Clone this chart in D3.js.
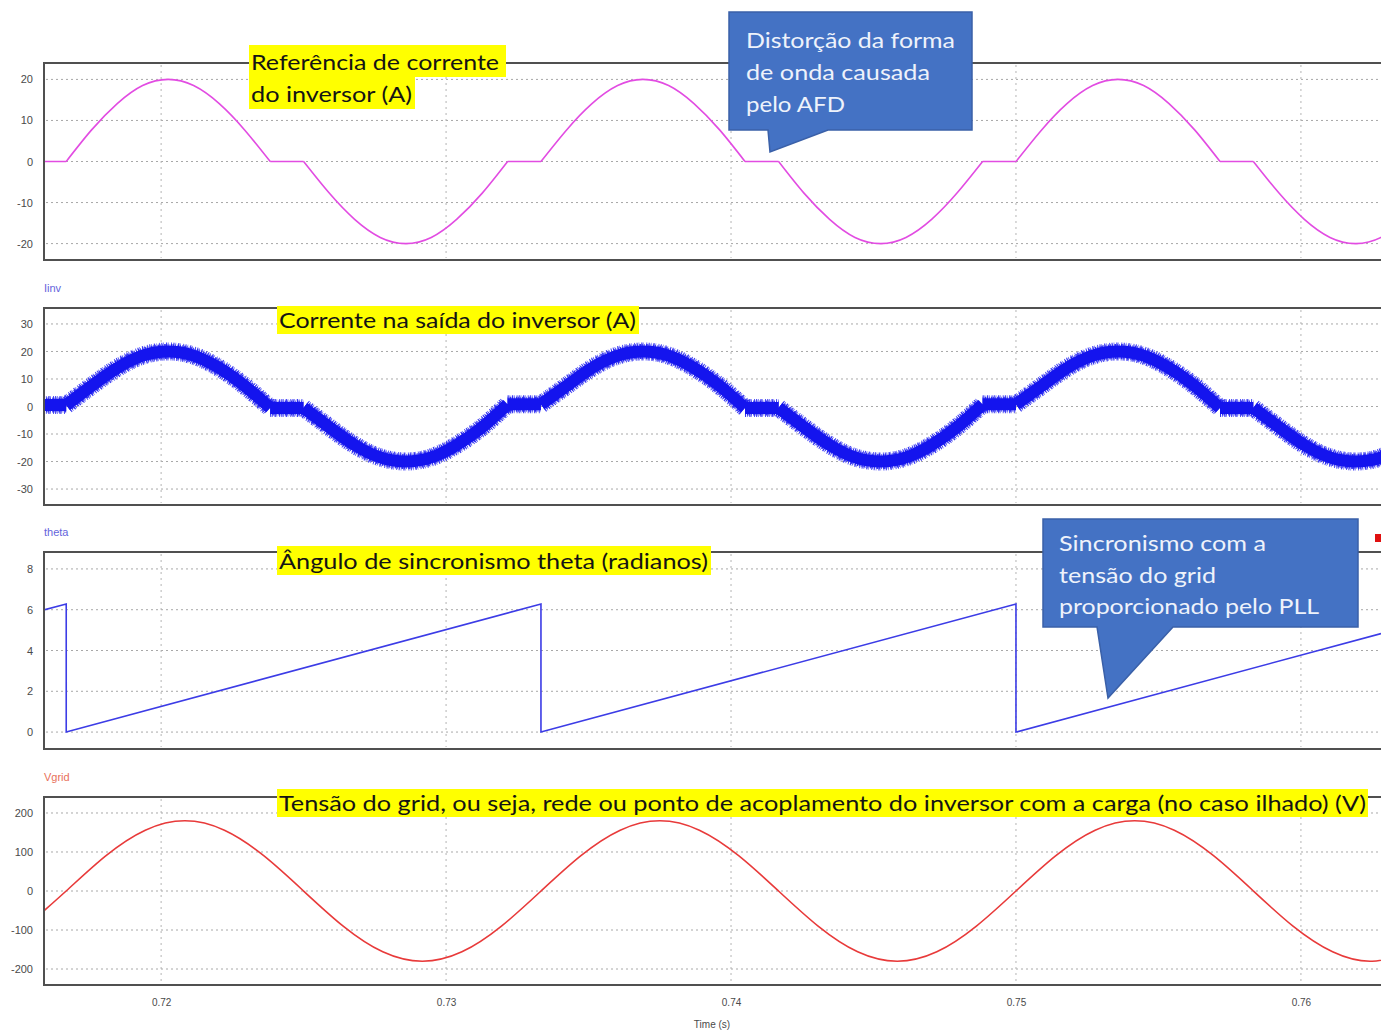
<!DOCTYPE html>
<html><head><meta charset="utf-8">
<script src="https://cdn.jsdelivr.net/npm/d3@7"></script>
<style>body{margin:0;background:#fff}svg{display:block}</style>
</head><body><svg id="c" width="1381" height="1031"></svg>
<script>
// ---------- data ----------
const timeTicks = [0.72, 0.73, 0.74, 0.75, 0.76];
const refTicks = [20, 10, 0, -10, -20];
const iinvTicks = [30, 20, 10, 0, -10, -20, -30];
const thetaTicks = [8, 6, 4, 2, 0];
const vgridTicks = [200, 100, 0, -100, -200];

const refTime = [0.71589,
  0.71667,0.71756,0.71846,0.71935,0.72025,0.72114,0.72204,0.72293,0.72383,
  0.72500,0.72590,0.72679,0.72769,0.72858,0.72948,0.73037,0.73127,0.73216,
  0.73333,0.73423,0.73512,0.73602,0.73691,0.73781,0.73870,0.73960,0.74049,
  0.74167,0.74256,0.74346,0.74435,0.74525,0.74614,0.74704,0.74793,0.74883,
  0.75000,0.75090,0.75179,0.75269,0.75358,0.75448,0.75537,0.75627,0.75716,
  0.75833,0.75923,0.76012,0.76102,0.76191,0.76281,0.76370];
const refCurrent = [0,
  0,7.7,14.1,18.5,20,18.5,14.1,7.7,0,
  0,-7.7,-14.1,-18.5,-20,-18.5,-14.1,-7.7,0,
  0,7.7,14.1,18.5,20,18.5,14.1,7.7,0,
  0,-7.7,-14.1,-18.5,-20,-18.5,-14.1,-7.7,0,
  0,7.7,14.1,18.5,20,18.5,14.1,7.7,0,
  0,-7.7,-14.1,-18.5,-20,-18.5,-14.1];
const iinvCurrent = [0.5,
  0.5,7.5,14,18.5,20,18.5,14,7.5,-0.5,
  -0.5,-7.5,-14,-18.5,-20,-18.5,-14,-7.5,0.8,
  0.8,7.5,14,18.5,20,18.5,14,7.5,-0.5,
  -0.5,-7.5,-14,-18.5,-20,-18.5,-14,-7.5,0.8,
  0.8,7.5,14,18.5,20,18.5,14,7.5,-0.5,
  -0.5,-7.5,-14,-18.5,-20,-18.5,-14];

const thetaTime = [0.71589, 0.71667, 0.71667, 0.73333, 0.73333, 0.75000, 0.75000, 0.76281];
const thetaValues = [5.99, 6.28, 0, 6.28, 0, 6.28, 0, 4.83];

const vgridTime = [0.715278,0.716667,0.718056,0.719444,0.720833,0.722222,0.723611,
  0.725000,0.726389,0.727778,0.729167,0.730556,0.731944,
  0.733333,0.734722,0.736111,0.737500,0.738889,0.740278,
  0.741667,0.743056,0.744444,0.745833,0.747222,0.748611,
  0.750000,0.751389,0.752778,0.754167,0.755556,0.756944,
  0.758333,0.759722,0.761111,0.762500,0.763889];
const vgridValues = [-90,0,90,155.9,180,155.9,90,
  0,-90,-155.9,-180,-155.9,-90,
  0,90,155.9,180,155.9,90,
  0,-90,-155.9,-180,-155.9,-90,
  0,90,155.9,180,155.9,90,
  0,-90,-155.9,-180,-155.9];

const panelNames = [null, "Iinv", "theta", "Vgrid"];
const xAxisTitle = "Time (s)";
const highlightTexts = [
  ["Referência de corrente", "do inversor (A)"],
  ["Corrente na saída do inversor (A)"],
  ["Ângulo de sincronismo theta (radianos)"],
  ["Tensão do grid, ou seja, rede ou ponto de acoplamento do inversor com a carga (no caso ilhado) (V)"]
];
const calloutTexts = [
  ["Distorção da forma", "de onda causada", "pelo AFD"],
  ["Sincronismo com a", "tensão do grid", "proporcionado pelo PLL"]
];

// ---------- drawing ----------
const svg = d3.select("#c");
const x = d3.scaleLinear().domain([0.71589, 0.76281]).range([44, 1381]);
const left = 44, right = 1384;

const panels = [
  {top: 63, bottom: 260, domain: [-24, 24], ticks: refTicks, name: panelNames[0], nameColor: "#5a5ae0"},
  {top: 308, bottom: 505, domain: [-35.8, 35.8], ticks: iinvTicks, name: panelNames[1], nameColor: "#6464dc"},
  {top: 552, bottom: 749, domain: [-0.83, 8.83], ticks: thetaTicks, name: panelNames[2], nameColor: "#6464dc"},
  {top: 797, bottom: 985, domain: [-241, 241], ticks: vgridTicks, name: panelNames[3], nameColor: "#e8705a"}
];

const tickFont = "'Liberation Sans Narrow','Arial Narrow','Liberation Sans',sans-serif";

panels.forEach((p, i) => {
  p.y = d3.scaleLinear().domain(p.domain).range([p.bottom, p.top]);
  const g = svg.append("g");
  g.append("rect").attr("x", left).attr("y", p.top).attr("width", right - left).attr("height", p.bottom - p.top)
    .attr("fill", "#fff");
  g.selectAll(".hg").data(p.ticks).join("line")
    .attr("x1", left + 2).attr("x2", right).attr("y1", d => p.y(d)).attr("y2", d => p.y(d))
    .attr("stroke", "#a8a8a8").attr("stroke-width", 1).attr("stroke-dasharray", "2,3");
  g.selectAll(".vg").data(timeTicks).join("line")
    .attr("x1", d => x(d)).attr("x2", d => x(d)).attr("y1", p.top + 2).attr("y2", p.bottom - 2)
    .attr("stroke", "#b4b4b4").attr("stroke-width", 1).attr("stroke-dasharray", "2,4");
  const ax = d3.axisLeft(p.y).tickValues(p.ticks).tickSize(0).tickPadding(0).tickFormat(d => String(d));
  const axg = g.append("g").attr("transform", `translate(${left - 11},0)`).call(ax);
  axg.select(".domain").remove();
  axg.selectAll("text").attr("font-family", tickFont).attr("font-size", 11).attr("fill", "#4a4a4a");
  g.append("rect").attr("x", left).attr("y", p.top).attr("width", right - left).attr("height", p.bottom - p.top)
    .attr("fill", "none").attr("stroke", "#505050").attr("stroke-width", 2);
  svg.append("clipPath").attr("id", "clip" + i).append("rect")
    .attr("x", left + 1).attr("y", p.top + 1).attr("width", right - left - 2).attr("height", p.bottom - p.top - 2);
  if (p.name) {
    svg.append("text").attr("x", 44).attr("y", p.top - 16).attr("font-family", tickFont)
      .attr("font-size", 11).attr("fill", p.nameColor).text(p.name);
  }
});

// series
const refData = refTime.map((t, i) => [t, refCurrent[i]]);
const iinvData = refTime.map((t, i) => [t, iinvCurrent[i]]);
const thetaData = thetaTime.map((t, i) => [t, thetaValues[i]]);
const vgridData = vgridTime.map((t, i) => [t, vgridValues[i]]);

// split a series at flat (two consecutive near-zero) stretches: flats drawn straight, half-waves as splines
function piecewisePath(p, data) {
  const runs = [];
  let cur = [data[0]];
  for (let i = 1; i < data.length; i++) {
    const prevFlat = Math.abs(data[i - 1][1]) < 1 && Math.abs(data[i][1]) < 1;
    const curFlat = cur.length > 1 && Math.abs(cur[cur.length - 2][1]) < 1 && Math.abs(cur[cur.length - 1][1]) < 1;
    if (prevFlat !== curFlat && cur.length > 1) { runs.push(cur); cur = [data[i - 1]]; }
    cur.push(data[i]);
  }
  runs.push(cur);
  const lin = d3.line().x(d => x(d[0])).y(d => p.y(d[1])).curve(d3.curveLinear);
  const nat = d3.line().x(d => x(d[0])).y(d => p.y(d[1])).curve(d3.curveNatural);
  return runs.map(r => {
    const flat = r.every(d => Math.abs(d[1]) < 1);
    return (flat ? lin : nat)(r);
  }).join("");
}
function lineFor(p, curve) {
  return d3.line().x(d => x(d[0])).y(d => p.y(d[1])).curve(curve);
}

svg.append("path").attr("clip-path", "url(#clip0)").attr("d", piecewisePath(panels[0], refData))
  .attr("fill", "none").attr("stroke", "#e24ce2").attr("stroke-width", 1.6).attr("stroke-linejoin", "round");

const iinvPath = piecewisePath(panels[1], iinvData);
const ig = svg.append("g").attr("clip-path", "url(#clip1)");
ig.append("path").attr("d", iinvPath).attr("fill", "none").attr("stroke", "#2a2af2")
  .attr("stroke-width", 18).attr("stroke-dasharray", "1.1,0.9,0.6,1.7,1.3,0.8,0.5,2.1,0.9,1.2").attr("opacity", 0.9);
ig.append("path").attr("d", iinvPath).attr("fill", "none").attr("stroke", "#2222f0")
  .attr("stroke-width", 15).attr("stroke-dasharray", "0.7,1.3,1.6,0.6,0.9,1.1").attr("opacity", 0.9);
ig.append("path").attr("d", iinvPath).attr("fill", "none").attr("stroke", "#1414ee")
  .attr("stroke-width", 12).attr("stroke-linejoin", "round");

svg.append("path").attr("clip-path", "url(#clip2)").attr("d", lineFor(panels[2], d3.curveLinear)(thetaData))
  .attr("fill", "none").attr("stroke", "#3c3ce6").attr("stroke-width", 1.6);

svg.append("path").attr("clip-path", "url(#clip3)").attr("d", lineFor(panels[3], d3.curveNatural)(vgridData))
  .attr("fill", "none").attr("stroke", "#e83a3a").attr("stroke-width", 1.6);

// x axis
const xa = d3.axisBottom(x).tickValues(timeTicks).tickSize(0).tickPadding(0).tickFormat(d3.format(".2f"));
const xg = svg.append("g").attr("transform", "translate(0,999)").call(xa);
xg.select(".domain").remove();
xg.selectAll("text").attr("font-family", tickFont).attr("font-size", 10).attr("fill", "#4a4a4a");
svg.append("text").attr("x", 712).attr("y", 1028).attr("text-anchor", "middle").attr("font-family", tickFont)
  .attr("font-size", 10).attr("fill", "#4a4a4a").text(xAxisTitle);

// highlighted labels
const labelFont = "Lato,'Open Sans','Noto Sans',sans-serif";
const hl = [
  [{x: 249, y: 45, w: 257, h: 32, tx: 251, ty: 70, len: 248}, {x: 249, y: 77, w: 166, h: 32, tx: 251, ty: 102, len: 161}],
  [{x: 277, y: 306, w: 362, h: 28, tx: 279, ty: 328, len: 357}],
  [{x: 277, y: 546, w: 434, h: 29, tx: 279, ty: 569, len: 429}],
  [{x: 277, y: 789, w: 1091, h: 28, tx: 279, ty: 811, len: 1087}]
];
hl.forEach((grp) => grp.forEach((b) => {
  svg.append("rect").attr("x", b.x).attr("y", b.y).attr("width", b.w).attr("height", b.h).attr("fill", "#ffff00");
}));
hl.forEach((grp, gi) => grp.forEach((b, li) => {
  svg.append("text").attr("x", b.tx).attr("y", b.ty).attr("font-family", labelFont).attr("font-size", 22)
    .attr("fill", "#141414").attr("textLength", b.len).attr("lengthAdjust", "spacingAndGlyphs")
    .text(highlightTexts[gi][li]);
}));

// callouts
const callouts = [
  {d: "M729,12 H972 V130 H828 L770,152 L768,130 H729 Z", tx: 746, ty: [48, 80, 112], len: [209, 184, 99]},
  {d: "M1043,519 H1358 V627 H1173 L1108,698 L1097,627 H1043 Z", tx: 1059, ty: [551, 583, 614], len: [207, 157, 260]}
];
callouts.forEach((c, ci) => {
  svg.append("path").attr("d", c.d).attr("fill", "#4472c4").attr("stroke", "#3a60a8").attr("stroke-width", 1.5);
  calloutTexts[ci].forEach((t, li) => {
    svg.append("text").attr("x", c.tx).attr("y", c.ty[li]).attr("font-family", labelFont).attr("font-size", 22)
      .attr("fill", "#eef2fb").attr("textLength", c.len[li]).attr("lengthAdjust", "spacingAndGlyphs").text(t);
  });
});

svg.append("rect").attr("x", 1375).attr("y", 534).attr("width", 6).attr("height", 8).attr("fill", "#e01010");
</script></body></html>
